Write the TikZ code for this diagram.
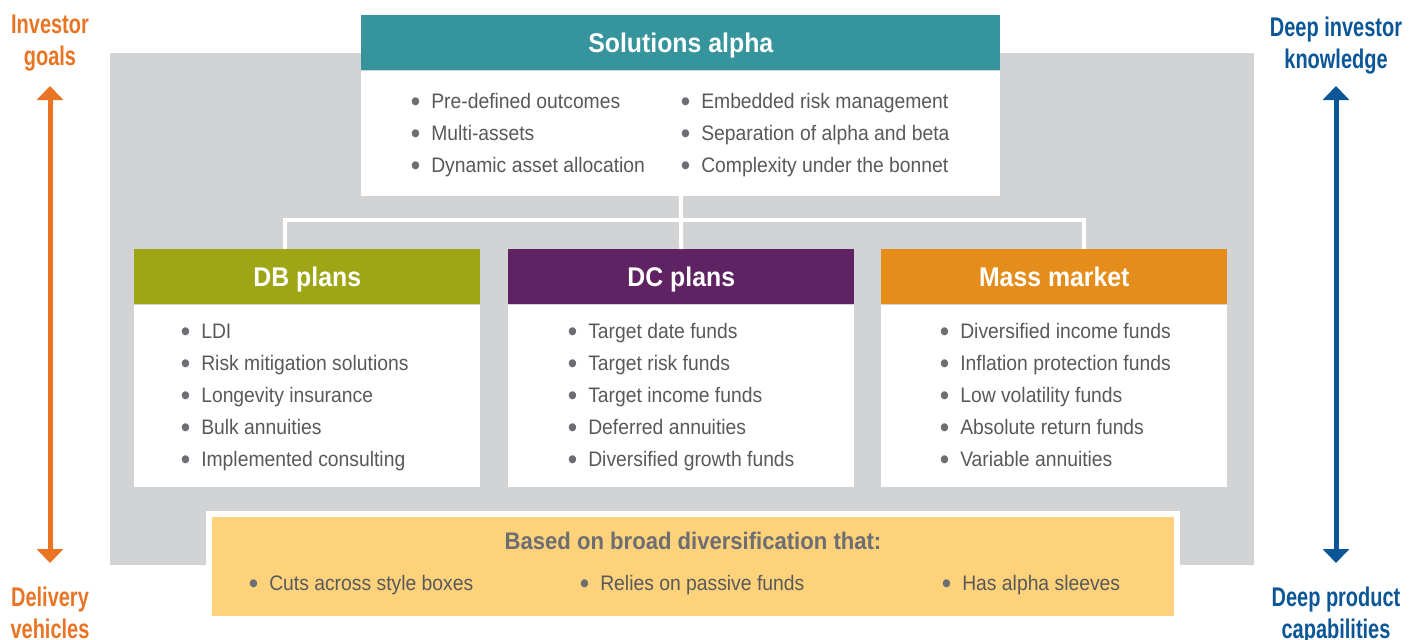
\documentclass[tikz,border=0pt]{standalone}
\usepackage{fontspec}
\setmainfont{Liberation Sans}[FakeStretch=0.92]
\newfontfamily\sidefont{Liberation Sans}[FakeStretch=0.74]
\usetikzlibrary{arrows.meta}

\definecolor{panelgray}{HTML}{D1D3D4}
\definecolor{solteal}{HTML}{36949C}
\definecolor{dbolive}{HTML}{9EA616}
\definecolor{dcpurple}{HTML}{5F2262}
\definecolor{mmorange}{HTML}{E48D1B}
\definecolor{goalorange}{HTML}{E87424}
\definecolor{goalblue}{HTML}{0A5697}
\definecolor{baseyellow}{HTML}{FDD27B}
\definecolor{textgray}{HTML}{58595B}
\definecolor{dotgray}{HTML}{6D6E71}

\tikzset{
    head/.style={anchor=north west, inner sep=0pt, text=white,
        font=\fontsize{20.25}{24}\selectfont\bfseries,
        text height=14.5pt, text depth=0pt,
        minimum width=259.5pt, minimum height=41.25pt},
    body/.style={anchor=north, fill=white, inner sep=0pt,
        minimum width=259.5pt, minimum height=136.5pt},
    item/.style={anchor=base west, inner sep=0pt, text=textgray,
        font=\fontsize{15.75}{18}\selectfont},
    link/.style={draw=white, line width=3pt},
    goal/.style={anchor=north, inner sep=0pt, align=center,
        font=\sidefont\fontsize{20.25}{24}\selectfont\bfseries},
    updown/.style={line width=3.75pt,
        {Triangle[width=19.5pt,length=10.5pt]}-{Triangle[width=19.5pt,length=10.5pt]}}
}
\newcommand{\bul}[1]{\makebox[14.25pt][l]{\hspace{-1pt}\raisebox{-2.4pt}{%
    \fontsize{22}{22}\selectfont\textcolor{dotgray}{\textbullet}}}#1}

\begin{document}
\begin{tikzpicture}[x=0.75pt,y=-0.75pt]
    \useasboundingbox (0,0) rectangle (1417,639);

    % Grey backdrop
    \fill [panelgray] (110,53) rectangle (1254,565);

    % Side labels and arrows
    \node [goal, text=goalorange] (igoal) at (50,15) {Investor\\goals};
    \node [goal, text=goalorange] (dveh) at (50,587) {Delivery\\vehicles};
    \node [goal, text=goalblue] (dknow) at (1336,17) {Deep investor\\knowledge};
    \node [goal, text=goalblue] (dprod) at (1336,587) {Deep product\\capabilities};
    \coordinate (otop) at (50,86);
    \coordinate (obot) at (50,563);
    \coordinate (btop) at (1336,86);
    \coordinate (bbot) at (1336,563);
    \draw [updown, goalorange] (otop) -- (obot);
    \draw [updown, goalblue] (btop) -- (bbot);

    % Solutions alpha
    \node [head, fill=solteal, minimum width=479.25pt] (sah) at (361,15)
        {Solutions alpha};
    \node [body, minimum width=479.25pt, minimum height=93.75pt] (sab)
        at (sah.south) {};
    \node [item] (sa1) at (412,108.5) {\bul{Pre-defined outcomes}};
    \node [item] (sa2) at (412,140.5) {\bul{Multi-assets}};
    \node [item] (sa3) at (412,172.5) {\bul{Dynamic asset allocation}};
    \node [item] (sa4) at (682,108.5) {\bul{Embedded risk management}};
    \node [item] (sa5) at (682,140.5) {\bul{Separation of alpha and beta}};
    \node [item] (sa6) at (682,172.5) {\bul{Complexity under the bonnet}};

    % DB plans
    \node [head, fill=dbolive] (dbh) at (134,249) {DB plans};
    \node [body] (dbb) at (dbh.south) {};
    \node [item] (db1) at (182,338.5) {\bul{LDI}};
    \node [item] (db2) at (182,370.5) {\bul{Risk mitigation solutions}};
    \node [item] (db3) at (182,402.5) {\bul{Longevity insurance}};
    \node [item] (db4) at (182,434.5) {\bul{Bulk annuities}};
    \node [item] (db5) at (182,466.5) {\bul{Implemented consulting}};

    % DC plans
    \node [head, fill=dcpurple] (dch) at (508,249) {DC plans};
    \node [body] (dcb) at (dch.south) {};
    \node [item] (dc1) at (569,338.5) {\bul{Target date funds}};
    \node [item] (dc2) at (569,370.5) {\bul{Target risk funds}};
    \node [item] (dc3) at (569,402.5) {\bul{Target income funds}};
    \node [item] (dc4) at (569,434.5) {\bul{Deferred annuities}};
    \node [item] (dc5) at (569,466.5) {\bul{Diversified growth funds}};

    % Mass market
    \node [head, fill=mmorange] (mmh) at (881,249) {Mass market};
    \node [body] (mmb) at (mmh.south) {};
    \node [item] (mm1) at (941,338.5) {\bul{Diversified income funds}};
    \node [item] (mm2) at (941,370.5) {\bul{Inflation protection funds}};
    \node [item] (mm3) at (941,402.5) {\bul{Low volatility funds}};
    \node [item] (mm4) at (941,434.5) {\bul{Absolute return funds}};
    \node [item] (mm5) at (941,466.5) {\bul{Variable annuities}};

    % Connectors
    \coordinate (jn) at (681,220);
    \draw [link] (sab.south) -- (jn);
    \draw [link] (jn) -- (dch.north);
    \draw [link] ([xshift=-16.5pt]dbh.north) |- (jn)
        -| ([xshift=22.5pt]mmh.north);

    % Broad diversification base
    \node [fill=baseyellow, draw=white, line width=4.5pt, inner sep=0pt,
        minimum width=726pt, minimum height=78.75pt] (base) at (693,566.5) {};
    \node [anchor=base, inner sep=0pt, text=dotgray,
        font=\fontsize{18}{22}\selectfont\bfseries] (btitle) at (693,549.5)
        {Based on broad diversification that:};
    \node [item] (bs1) at (250,590.5) {\bul{Cuts across style boxes}};
    \node [item] (bs2) at (581,590.5) {\bul{Relies on passive funds}};
    \node [item] (bs3) at (943,590.5) {\bul{Has alpha sleeves}};
\end{tikzpicture}
\end{document}
